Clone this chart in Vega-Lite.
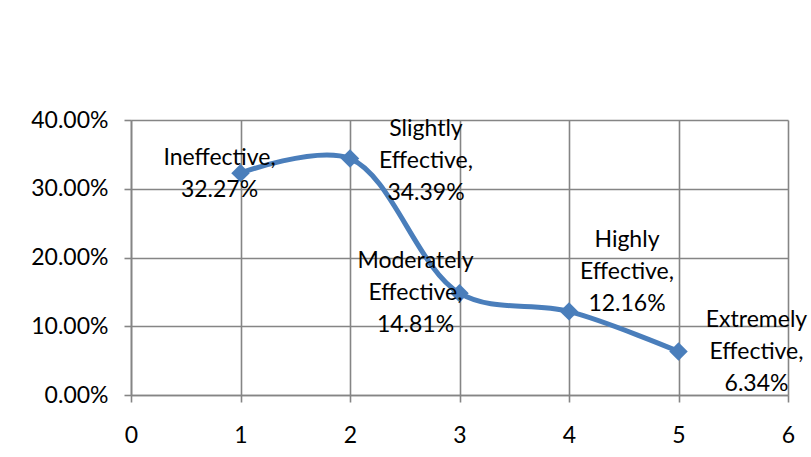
{
  "$schema": "https://vega.github.io/schema/vega-lite/v6.json",
  "autosize": {"type": "none"},
  "width": 657,
  "height": 275,
  "padding": {"left": 131, "top": 120, "right": 23, "bottom": 62},
  "background": "white",
  "config": {
    "view": {"stroke": null},
    "font": "Lato",
    "text": {"font": "Lato", "fontSize": 23, "lineBreak": "\n", "lineHeight": 32, "color": "black"}
  },
  "data": {
    "values": [
      {"rank": 1, "share": 0.3227, "label": "Ineffective,\n32.27%"},
      {"rank": 2, "share": 0.3439, "label": "Slightly\nEffective,\n34.39%"},
      {"rank": 3, "share": 0.1481, "label": "Moderately\nEffective,\n14.81%"},
      {"rank": 4, "share": 0.1216, "label": "Highly\nEffective,\n12.16%"},
      {"rank": 5, "share": 0.0634, "label": "Extremely\nEffective,\n6.34%"}
    ]
  },
  "encoding": {
    "x": {
      "field": "rank", "type": "quantitative",
      "scale": {"domain": [0, 6], "nice": false, "zero": false},
      "axis": {
        "title": null, "values": [0, 1, 2, 3, 4, 5, 6], "format": "d",
        "grid": true, "gridColor": "#858585", "gridWidth": 1.6,
        "domainColor": "#858585", "domainWidth": 1.6,
        "tickColor": "#858585", "tickWidth": 1.6, "tickSize": 7,
        "labelFont": "Lato", "labelFontSize": 23, "labelColor": "black",
        "labelFlush": false, "labelOverlap": false, "labelPadding": 22
      }
    },
    "y": {
      "field": "share", "type": "quantitative",
      "scale": {"domain": [0, 0.4], "nice": false},
      "axis": {
        "title": null, "values": [0, 0.1, 0.2, 0.3, 0.4], "format": ".2%",
        "grid": true, "gridColor": "#858585", "gridWidth": 1.6,
        "domainColor": "#858585", "domainWidth": 1.6,
        "tickColor": "#858585", "tickWidth": 1.6, "tickSize": 7,
        "labelFont": "Lato", "labelFontSize": 23, "labelColor": "black",
        "labelFlush": false, "labelOverlap": false, "labelPadding": 16
      }
    }
  },
  "layer": [
    {
      "mark": {"type": "line", "interpolate": "catmull-rom", "color": "#4A7EBB", "strokeWidth": 5}
    },
    {
      "mark": {"type": "point", "shape": "diamond", "filled": true, "size": 340, "color": "#4A7EBB", "opacity": 1}
    },
    {
      "transform": [{"filter": "datum.rank == 1"}],
      "mark": {"type": "text", "align": "center", "baseline": "middle", "dx": -21, "dy": -15},
      "encoding": {"text": {"field": "label"}}
    },
    {
      "transform": [{"filter": "datum.rank == 2"}],
      "mark": {"type": "text", "align": "center", "baseline": "middle", "dx": 76, "dy": -30},
      "encoding": {"text": {"field": "label"}}
    },
    {
      "transform": [{"filter": "datum.rank == 3"}],
      "mark": {"type": "text", "align": "center", "baseline": "middle", "dx": -44, "dy": -32},
      "encoding": {"text": {"field": "label"}}
    },
    {
      "transform": [{"filter": "datum.rank == 4"}],
      "mark": {"type": "text", "align": "center", "baseline": "middle", "dx": 58, "dy": -71},
      "encoding": {"text": {"field": "label"}}
    },
    {
      "transform": [{"filter": "datum.rank == 5"}],
      "mark": {"type": "text", "align": "center", "baseline": "middle", "dx": 78, "dy": -31},
      "encoding": {"text": {"field": "label"}}
    }
  ]
}
